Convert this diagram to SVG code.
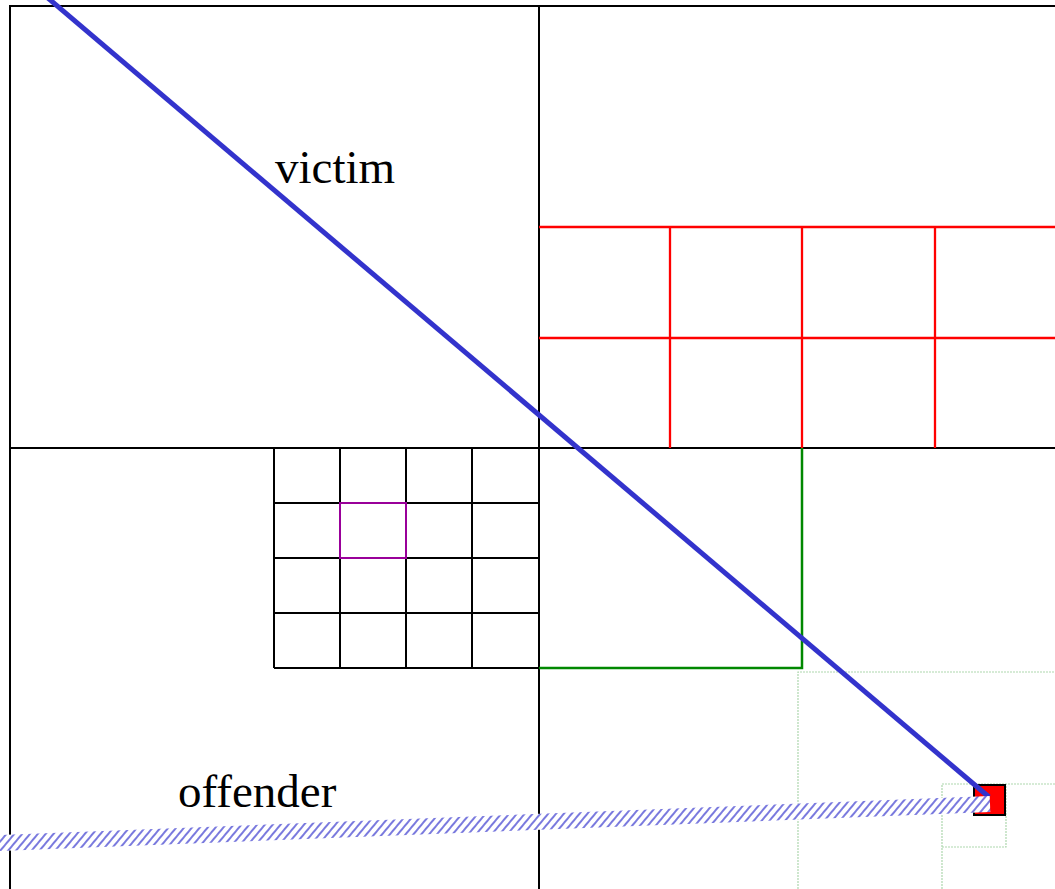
<svg xmlns="http://www.w3.org/2000/svg" width="1055" height="889" viewBox="0 0 1055 889">
<style>
.blk{fill:none;stroke:#000;stroke-width:2}
.red{fill:none;stroke:#f00;stroke-width:2.3}
.grn{fill:none;stroke:#080;stroke-width:2.5}
.dot{fill:none;stroke:#9c9;stroke-width:1.2;stroke-dasharray:2,1;opacity:0.8}
.lbl{font-family:"Liberation Serif","Times New Roman",serif;font-size:47px;fill:#000}
</style>
<defs>
<pattern id="hatch" patternUnits="userSpaceOnUse" width="6" height="6" patternTransform="rotate(40)">
<rect width="6" height="6" fill="#fff"/>
<rect width="2" height="6" fill="#3333cc" opacity="0.65"/>
</pattern>
</defs>
<rect width="1055" height="889" fill="#fff"/>
<g id="quadtree">
<path class="blk" d="M10,889 V6 H1060 M539,6 V889 M10,448 H1060"/>
</g>
<g id="red-grid">
<path class="red" d="M539,227 H1060 M539,338 H1060 M670,227 V448 M802,227 V448 M935,227 V448"/>
</g>
<g id="black-grid">
<path class="blk" d="M274,448 V668 M340,448 V668 M406,448 V668 M472,448 V668 M274,503 H539 M274,558 H539 M274,613 H539 M274,668 H539"/>
</g>
<g id="purple-cell">
<rect x="340" y="503" width="66" height="55" fill="none" stroke="#909" stroke-width="2"/>
</g>
<g id="green-cell">
<path class="grn" d="M539,668 H802 V448"/>
</g>
<g id="dotted-cells">
<path class="dot" d="M798,889 V672 H1060 M942,889 V784 H1060 M942,847 H1006 V784"/>
</g>
<g id="target">
<rect x="974" y="785" width="31" height="30" fill="#f00" stroke="#000" stroke-width="2"/>
</g>
<g id="connectors">
<line id="victim-line" x1="42" y1="-7" x2="989" y2="797" stroke="#3333cc" stroke-width="5"/>
<line id="offender-line" x1="-10" y1="843.4" x2="990" y2="804" stroke="url(#hatch)" stroke-width="16"/>
</g>
<g id="labels">
<text class="lbl" x="275" y="183">victim</text>
<text class="lbl" x="178" y="807">offender</text>
</g>
</svg>
